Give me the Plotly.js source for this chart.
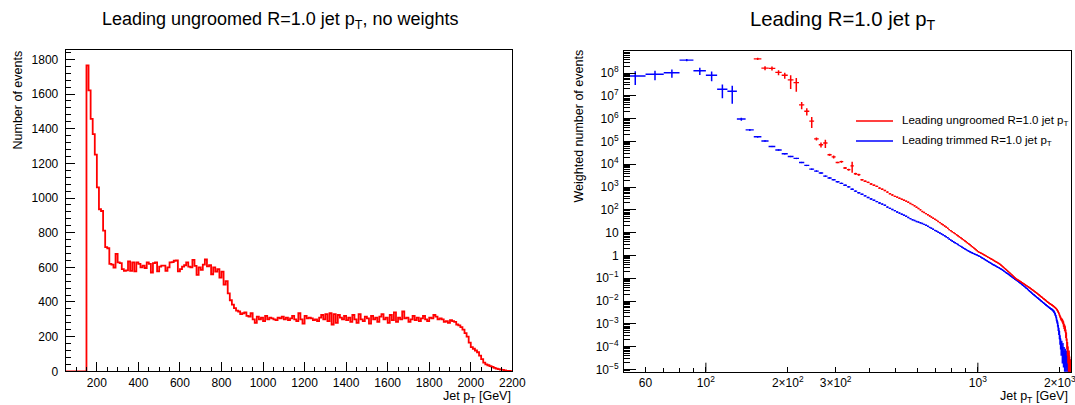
<!DOCTYPE html>
<html><head><meta charset="utf-8">
<script src="https://cdn.plot.ly/plotly-3.0.1.min.js"></script>
<style>html,body{margin:0;padding:0;background:#fff}#chart{width:1075px;height:405px}</style>
</head><body><div id="chart"></div>
<script>
// ---------- data ----------
const binStart = 50, binWidth = 10;           // GeV
// Left: unweighted leading ungroomed R=1.0 jet pT (bins 50..2200)
const ungroomedCounts = [
  0,0,0,0,0,0,0,0,0,0,
  1765,1621,1456,1369,1250,1061,935,925,812,716,
  710,620,615,598,678,628,624,590,580,582,
  634,580,628,577,628,620,600,610,596,628,
  620,570,624,628,577,604,610,610,580,600,
  628,630,638,640,577,590,604,612,628,604,
  600,643,608,556,600,585,615,645,605,612,
  560,600,575,590,540,575,500,520,450,410,
  385,365,350,345,330,335,340,320,315,335,
  300,280,315,300,310,290,320,300,310,305,
  300,295,310,305,315,300,310,295,305,320,
  300,290,335,300,275,320,305,310,305,295,
  300,290,310,325,300,330,290,335,270,330,
  280,325,310,300,320,295,310,285,325,300,
  280,330,300,290,315,305,275,320,300,310,
  285,315,330,300,310,280,325,295,340,285,
  310,300,345,305,310,285,300,320,295,310,
  290,305,320,300,290,310,305,325,315,300,
  305,300,285,290,280,295,290,285,270,265,
  255,240,220,200,165,140,130,120,110,90,
  70,50,40,35,30,25,20,15,12,10,
  8,5,3,2,1
];
// Right: weighted, trimmed (bins from 50)
const trimmedStart = 50;
const trimmedWeighted = [
  7.4e7,8.8e7,1.03e8,3.7e8,1.26e8,8.0e7,1.95e7,1.6e7,9.6e5,3.2e5,
  1.6e5,1.05e5,6.0e4,4.2e4,2.9e4,2.2e4,1.8e4,1.2e4,8.9e3,6.1e3,
  5.0e3,4.1e3,3.0e3,2.5e3,2.1e3,1.7e3,1.45e3,1.2e3,1.02e3,800,
  660,560,480,410,350,300,262,230,200,178,
  158,132,116,104,92,80,72,64,58,52,
  46,41,37,34,31,29,27,25,23,21,
  19,17,15.5,14,12.5,11.5,10.5,9.6,8.8,8.0,
  7.3,6.6,6.0,5.2,4.7,4.3,3.9,3.6,3.3,3.0,
  2.7,2.5,2.3,2.1,1.95,1.8,1.65,1.55,1.45,1.35,
  1.28,1.2,1.13,1.08,1.03,0.97,0.91,0.85,0.79,0.74,
  0.69,0.64,0.6,0.56,0.52,0.49,0.46,0.43,0.40,0.38,
  0.36,0.34,0.32,0.30,0.29,0.27,0.255,0.24,0.225,0.21,
  0.195,0.18,0.17,0.16,0.15,0.14,0.13,0.122,0.114,0.106,
  0.099,0.092,0.088,0.083,0.078,0.073,0.068,0.064,0.060,0.056,
  0.052,0.049,0.046,0.043,0.040,0.037,0.035,0.033,0.030,0.028,
  0.026,0.025,0.023,0.0215,0.020,0.019,0.0178,0.0168,0.0158,0.0148,
  0.0140,0.0132,0.0124,0.0117,0.0110,0.0104,0.0098,0.0092,0.0087,0.0082,
  0.0078,0.0073,0.0069,0.0066,0.0062,0.0059,0.0056,0.0053,0.0050,0.0048,
  0.0046,0.0044,0.0042,0.0040,0.0037,0.0034,0.0030,0.0026,0.0022,0.0017,
  0.0013,0.0010,0.0007,0.0005,0.00035,0.00022,0.00015,0.0001,0.00012,0.00006,
  0.00009,0.00004,0.00006,0.00003,0.00005,0.00002,0.00004,0.000015,0.00003,0.00001,
  0.00002,0.000012,0.000008,0.000015,0.00001
];
const trimmedRelErr = [
  0.6,0.45,0.4,0.12,0.35,0.45,0.6,0.72,0.15,0.08,
  0.06,0.05,0.05,0.05,0.05,0.05,0.05,0.05,0.05,0.05,
  0.04,0.04,0.04,0.04,0.04,0.04,0.04,0.04,0.04,0.04,
  0.04,0.04,0.04,0.04,0.04,0.04,0.04,0.04,0.04,0.04,
  0.04,0.04,0.04,0.04,0.04,0.04,0.04,0.04,0.04,0.04,
  0.04,0.04,0.04,0.04,0.04,0.04,0.04,0.04,0.04,0.04,
  0.04,0.04,0.04,0.04,0.04,0.04,0.04,0.04,0.04,0.04,
  0.04,0.04,0.04,0.04,0.04,0.04,0.04,0.04,0.04,0.04,
  0.04,0.04,0.04,0.04,0.04,0.04,0.04,0.04,0.04,0.04,
  0.04,0.04,0.04,0.04,0.04,0.04,0.04,0.04,0.04,0.04,
  0.04,0.04,0.04,0.04,0.04,0.04,0.04,0.04,0.04,0.04,
  0.04,0.04,0.04,0.04,0.04,0.04,0.04,0.04,0.04,0.04,
  0.04,0.04,0.04,0.04,0.04,0.04,0.04,0.04,0.04,0.04,
  0.04,0.04,0.04,0.04,0.04,0.04,0.04,0.04,0.04,0.04,
  0.04,0.04,0.04,0.04,0.04,0.04,0.04,0.04,0.04,0.04,
  0.05,0.05,0.05,0.05,0.05,0.05,0.05,0.05,0.05,0.05,
  0.05,0.05,0.05,0.05,0.05,0.05,0.05,0.05,0.05,0.05,
  0.06,0.06,0.06,0.06,0.06,0.06,0.06,0.06,0.06,0.06,
  0.08,0.08,0.1,0.1,0.1,0.12,0.12,0.15,0.15,0.2,
  0.2,0.25,0.3,0.35,0.4,0.45,0.5,0.6,0.5,0.7,
  0.6,0.7,0.6,0.8,0.6,0.8,0.7,0.85,0.7,0.9,
  0.8,0.85,0.9,0.8,0.9
];
// Right: weighted, ungroomed (bins from 150)
const ungroomedWStart = 150;
const ungroomedWeighted = [
  4.2e8,1.65e8,1.6e8,1.07e8,8.0e7,5.0e7,3.8e7,4.0e6,2.1e6,7.8e5,
  1.3e5,7.2e4,8.5e4,2.6e4,2.1e4,1.2e4,1.3e4,6.8e3,5.8e3,8.5e3,
  3.8e3,3.5e3,2.1e3,1.8e3,1.6e3,1.35e3,1.2e3,1.07e3,900,800,
  700,600,510,450,390,360,320,290,265,240,
  215,190,170,150,130,115,100,85,76,68,
  61,54,48,43,38.5,34.5,31,27.5,24.5,22,
  19.5,17.5,15.5,13.5,12.2,11.0,10.0,9.0,8.1,7.3,
  6.6,6.0,5.4,4.9,4.4,4.0,3.6,3.25,2.95,2.65,
  2.4,2.15,1.95,1.77,1.6,1.45,1.36,1.28,1.2,1.12,
  1.05,0.99,0.93,0.87,0.82,0.77,0.72,0.68,0.64,0.60,
  0.56,0.53,0.50,0.47,0.44,0.415,0.38,0.35,0.32,0.295,
  0.27,0.25,0.23,0.21,0.195,0.18,0.165,0.15,0.14,0.128,
  0.118,0.108,0.1,0.093,0.088,0.083,0.079,0.075,0.071,0.067,
  0.063,0.060,0.057,0.054,0.051,0.048,0.046,0.043,0.041,0.039,
  0.037,0.035,0.033,0.031,0.0295,0.028,0.0265,0.025,0.0237,0.0224,
  0.0212,0.0200,0.0189,0.0178,0.0168,0.0159,0.0150,0.0142,0.0134,0.0127,
  0.0120,0.0113,0.0107,0.0101,0.0096,0.0091,0.0086,0.0082,0.0078,0.0075,
  0.0072,0.0069,0.0066,0.0063,0.0060,0.0057,0.0054,0.0051,0.0048,0.0045,
  0.0041,0.0037,0.0033,0.0029,0.0025,0.0021,0.0018,0.0016,0.0015,0.0014,
  0.0012,0.001,0.0008,0.0007,0.0006,0.0004,0.0003,0.00015,0.0001,0.00006,
  0.00003,0.00004,0.00002,0.00001,0.000015
];
const ungroomedRelErr = [
  0.12,0.2,0.2,0.25,0.3,0.6,0.6,0.35,0.35,0.5,
  0.15,0.25,0.4,0.1,0.15,0.05,0.1,0.1,0.08,0.5,
  0.1,0.1,0.08,0.06,0.06,0.05,0.05,0.05,0.05,0.05,
  0.04,0.04,0.04,0.04,0.04,0.04,0.04,0.04,0.04,0.04,
  0.04,0.04,0.04,0.04,0.04,0.04,0.04,0.04,0.04,0.04,
  0.04,0.04,0.04,0.04,0.04,0.04,0.04,0.04,0.04,0.04,
  0.04,0.04,0.04,0.04,0.04,0.04,0.04,0.04,0.04,0.04,
  0.04,0.04,0.04,0.04,0.04,0.04,0.04,0.04,0.04,0.04,
  0.04,0.04,0.04,0.04,0.04,0.04,0.04,0.04,0.04,0.04,
  0.04,0.04,0.04,0.04,0.04,0.04,0.04,0.04,0.04,0.04,
  0.04,0.04,0.04,0.04,0.04,0.04,0.04,0.04,0.04,0.04,
  0.04,0.04,0.04,0.04,0.04,0.04,0.04,0.04,0.04,0.04,
  0.04,0.04,0.04,0.04,0.04,0.04,0.04,0.04,0.04,0.04,
  0.04,0.04,0.04,0.04,0.04,0.04,0.04,0.04,0.04,0.04,
  0.05,0.05,0.05,0.05,0.05,0.05,0.05,0.05,0.05,0.05,
  0.05,0.05,0.05,0.05,0.05,0.05,0.05,0.05,0.05,0.05,
  0.05,0.05,0.05,0.05,0.05,0.05,0.05,0.05,0.05,0.05,
  0.06,0.06,0.06,0.06,0.06,0.06,0.06,0.06,0.06,0.06,
  0.08,0.08,0.1,0.1,0.12,0.12,0.15,0.15,0.15,0.2,
  0.2,0.25,0.25,0.3,0.3,0.4,0.4,0.5,0.6,0.7,
  0.8,0.7,0.85,0.9,0.8
];
const rightXTickVals = [60, 100, 200, 300, 1000, 2000];
const rightXTickText = ['60', '10<sup>2</sup>', '2×10<sup>2</sup>', '3×10<sup>2</sup>', '10<sup>3</sup>', '2×10<sup>3</sup>'];
const rightXMinorVals = [50, 70, 80, 90, 400, 500, 600, 700, 800, 900];
const rightYExps = [-5,-4,-3,-2,-1,0,1,2,3,4,5,6,7,8];
const legendLabels = ['Leading ungroomed R=1.0 jet p<sub>T</sub>', 'Leading trimmed R=1.0 jet p<sub>T</sub>'];

// ---------- build ----------
const W = 1075, H = 405;
const px = v => v / W, py = v => 1 - v / H;
const FONT = 'Liberation Sans, Arial, Helvetica, sans-serif';

const edges = ungroomedCounts.map((_, i) => binStart + i * binWidth);
edges.push(binStart + ungroomedCounts.length * binWidth);
const histY = ungroomedCounts.concat([ungroomedCounts[ungroomedCounts.length - 1]]);

const centers = (start, arr) => arr.map((_, i) => start + binWidth * (i + 0.5));
const absErr = (vals, rel) => vals.map((v, i) => v * rel[i]);

const RED = '#ff0000', BLUE = '#0000ff';

const traces = [
  { type: 'scatter', mode: 'lines', x: edges, y: histY, xaxis: 'x', yaxis: 'y',
    line: { shape: 'hv', color: RED, width: 1.8 }, hoverinfo: 'skip', showlegend: false },
  { type: 'scatter', mode: 'markers', x: centers(trimmedStart, trimmedWeighted), y: trimmedWeighted,
    xaxis: 'x2', yaxis: 'y2', marker: { size: 1.5, color: BLUE }, showlegend: false,
    error_x: { type: 'constant', value: binWidth / 2, width: 0, thickness: 1.4, color: BLUE },
    error_y: { type: 'data', array: absErr(trimmedWeighted, trimmedRelErr), width: 0, thickness: 1.5, color: BLUE } },
  { type: 'scatter', mode: 'markers', x: centers(ungroomedWStart, ungroomedWeighted), y: ungroomedWeighted,
    xaxis: 'x2', yaxis: 'y2', marker: { size: 1.5, color: RED }, showlegend: false,
    error_x: { type: 'constant', value: binWidth / 2, width: 0, thickness: 1.4, color: RED },
    error_y: { type: 'data', array: absErr(ungroomedWeighted, ungroomedRelErr), width: 0, thickness: 1.5, color: RED } }
];

const minorY = [];
for (let k = -6; k <= 8; k++) for (let m = 2; m <= 9; m++) minorY.push(m * Math.pow(10, k));

const tickFont = { family: FONT, size: 12, color: '#000' };
const axBase = { showgrid: false, zeroline: false, showline: true, mirror: true, linecolor: '#000',
  linewidth: 1, ticks: 'inside', tickcolor: '#000', tickwidth: 1, tickfont: tickFont, fixedrange: true,
  ticklabeloverflow: 'allow' };

const layout = {
  width: W, height: H, margin: { l: 0, r: 0, t: 0, b: 0 }, paper_bgcolor: '#fff', plot_bgcolor: '#fff',
  showlegend: false,
  xaxis: Object.assign({}, axBase, { domain: [px(65.7), px(512.3)], range: [50, 2200], anchor: 'y',
    tickmode: 'linear', tick0: 0, dtick: 200, ticklen: 9, ticklabelstandoff: 0,
    minor: { dtick: 50, tick0: 0, ticklen: 4, ticks: 'inside', tickcolor: '#000' } }),
  yaxis: Object.assign({}, axBase, { domain: [py(371.3), py(50)], range: [0, 1854], anchor: 'x',
    tickmode: 'linear', tick0: 0, dtick: 200, ticklen: 9, ticklabelstandoff: 4,
    minor: { dtick: 40, tick0: 0, ticklen: 5, ticks: 'inside', tickcolor: '#000' } }),
  xaxis2: Object.assign({}, axBase, { domain: [px(624), px(1071)], type: 'log',
    range: [Math.log10(50), Math.log10(2200)], anchor: 'y2',
    tickmode: 'array', tickvals: rightXTickVals, ticktext: rightXTickText, ticklen: 5, ticklabelstandoff: 0,
    minor: { tickmode: 'array', tickvals: rightXMinorVals, ticklen: 4, ticks: 'inside', tickcolor: '#000' } }),
  yaxis2: Object.assign({}, axBase, { domain: [py(371.7), py(50.7)], type: 'log', range: [-5.1, 8.98], anchor: 'x2',
    tickmode: 'array', tickvals: rightYExps.map(e => Math.pow(10, e)),
    ticktext: rightYExps.map(e => e === 0 ? '1' : (e === 1 ? '10' : '10<sup>' + (e < 0 ? '−' + (-e) : e) + '</sup>')),
    ticklen: 12, ticklabelstandoff: 2,
    minor: { tickmode: 'array', tickvals: minorY, ticklen: 6, ticks: 'inside', tickcolor: '#000' } }),
  shapes: [
    // long decade ticks on the log x axis
    { type: 'line', xref: 'x2', yref: 'y2 domain', x0: 100, x1: 100, y0: 0, y1: 9 / 321, line: { color: '#000', width: 1 } },
    { type: 'line', xref: 'x2', yref: 'y2 domain', x0: 1000, x1: 1000, y0: 0, y1: 9 / 321, line: { color: '#000', width: 1 } },
    // legend lines
    { type: 'line', xref: 'paper', yref: 'paper', x0: px(856), x1: px(893), y0: py(121), y1: py(121), line: { color: RED, width: 1.6 } },
    { type: 'line', xref: 'paper', yref: 'paper', x0: px(856), x1: px(893), y0: py(141), y1: py(141), line: { color: BLUE, width: 1.6 } }
  ],
  annotations: [
    { xref: 'paper', yref: 'paper', x: px(280), y: py(20), xanchor: 'center', yanchor: 'middle', showarrow: false,
      text: 'Leading ungroomed R=1.0 jet p<sub>T</sub>, no weights', font: { family: FONT, size: 18, color: '#000' } },
    { xref: 'paper', yref: 'paper', x: px(842), y: py(21), xanchor: 'center', yanchor: 'middle', showarrow: false,
      text: 'Leading R=1.0 jet p<sub>T</sub>', font: { family: FONT, size: 20.3, color: '#000' } },
    { xref: 'paper', yref: 'paper', x: px(17), y: py(49), xanchor: 'center', yanchor: 'top', textangle: -90, showarrow: false,
      text: 'Number of events', font: { family: FONT, size: 12.5, color: '#000' } },
    { xref: 'paper', yref: 'paper', x: px(579), y: py(48), xanchor: 'center', yanchor: 'top', textangle: -90, showarrow: false,
      text: 'Weighted number of events', font: { family: FONT, size: 12.5, color: '#000' } },
    { xref: 'paper', yref: 'paper', x: px(513), y: py(387), xanchor: 'right', yanchor: 'top', showarrow: false,
      text: 'Jet p<sub>T</sub> [GeV]', font: { family: FONT, size: 12.5, color: '#000' } },
    { xref: 'paper', yref: 'paper', x: px(1070), y: py(387), xanchor: 'right', yanchor: 'top', showarrow: false,
      text: 'Jet p<sub>T</sub> [GeV]', font: { family: FONT, size: 12.5, color: '#000' } },
    { xref: 'paper', yref: 'paper', x: px(900), y: py(121), xanchor: 'left', yanchor: 'middle', showarrow: false,
      text: legendLabels[0], font: { family: FONT, size: 11.5, color: '#000' } },
    { xref: 'paper', yref: 'paper', x: px(900), y: py(141), xanchor: 'left', yanchor: 'middle', showarrow: false,
      text: legendLabels[1], font: { family: FONT, size: 11.5, color: '#000' } }
  ]
};

Plotly.newPlot('chart', traces, layout, { staticPlot: true, displayModeBar: false });
</script>
</body></html>
